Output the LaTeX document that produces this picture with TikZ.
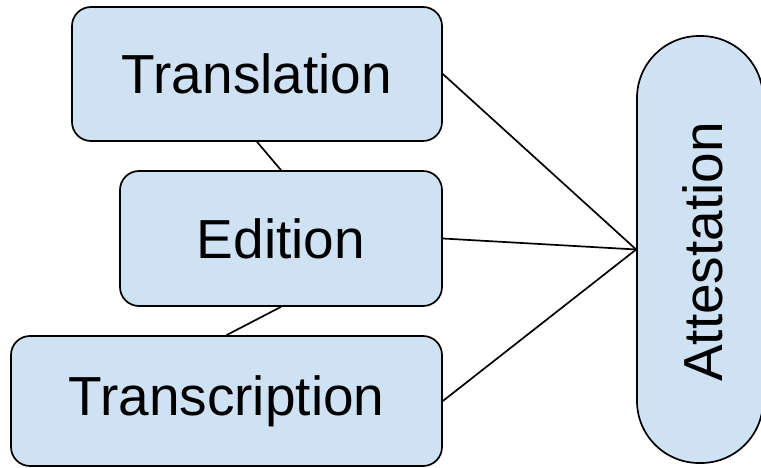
\documentclass[tikz,border=0pt]{standalone}
\usepackage{fontspec}
\setmainfont{Liberation Sans}
\usepackage{xcolor}
\definecolor{boxblue}{HTML}{CFE2F3}
\tikzset{
  box/.style={draw, line width=1.7pt, fill=boxblue, rounded corners=19pt, inner sep=0pt,
    font=\fontsize{55}{60}\selectfont},
  link/.style={line width=1.7pt}
}

\begin{document}
\begin{tikzpicture}[x=1pt, y=1pt]
      \useasboundingbox (0,0) rectangle (761,467);
      \node[box, minimum width=370pt, minimum height=134pt] (tr) at (257,393) {Translation};
      \node[box, minimum width=322pt, minimum height=135pt] (ed) at (281,228.5) {Edition};
      \node[box, minimum width=431pt, minimum height=130pt] (tc) at (226.5,66) {Transcription};
      \node[box, rounded corners=62pt, minimum width=126pt, minimum height=427pt] (at) at (700,217.5) {};
      \node[rotate=90, font=\fontsize{55}{60}\selectfont, inner sep=0pt] (atlabel) at (703,215) {Attestation};

      \draw[link] (tr.south) -- (ed.north);
      \draw[link] (ed.south) -- (tc.north);
      \draw[link] (tr.east) -- (at.west);
      \draw[link] (ed.east) -- (at.west);
      \draw[link] (tc.east) -- (at.west);
    \end{tikzpicture}
\end{document}
